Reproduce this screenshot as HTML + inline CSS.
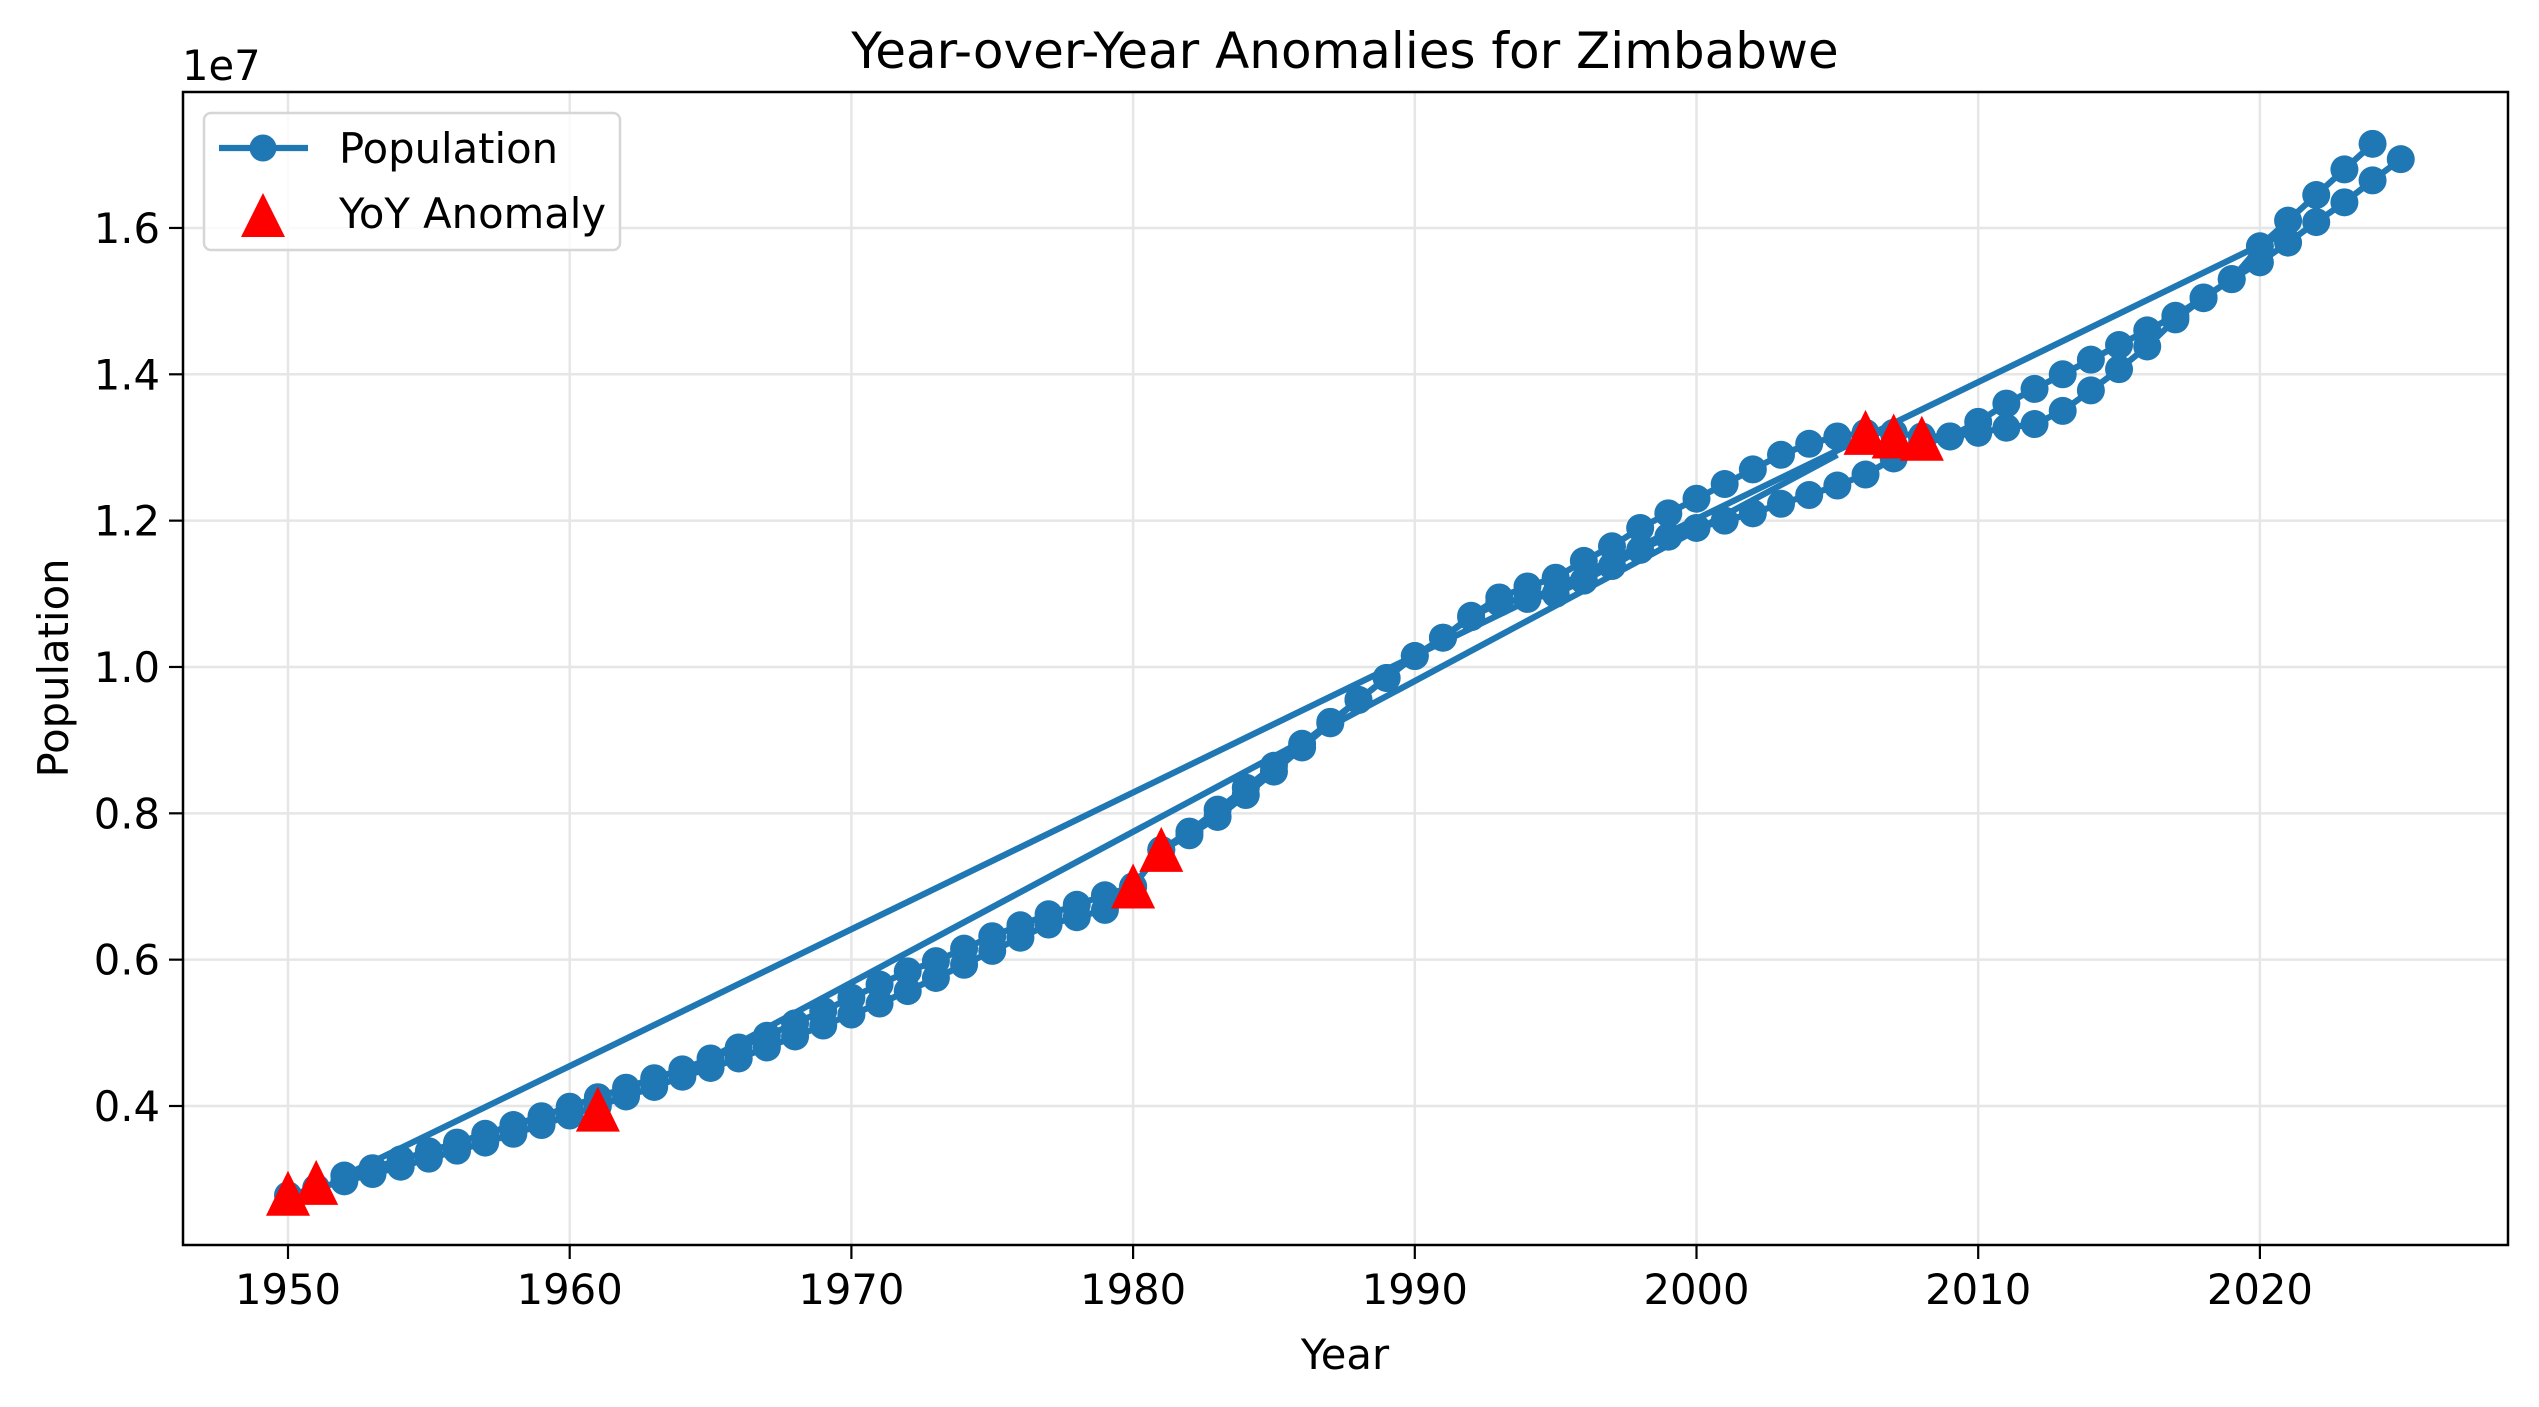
<!DOCTYPE html>
<html><head><meta charset="utf-8">
<style>
html,body{margin:0;padding:0;background:#fff;}
svg{display:block;font-family:"DejaVu Sans","Liberation Sans",sans-serif;}
</style></head>
<body>
<svg id="chart" width="2539" height="1407" viewBox="0 0 2539 1407" xmlns="http://www.w3.org/2000/svg">
<rect x="0" y="0" width="2539" height="1407" fill="#fff"/>
<text x="1345" y="68" font-size="50" text-anchor="middle" fill="#000">Year-over-Year Anomalies for Zimbabwe</text>
<g id="grid"></g>
<g id="plot"></g>
<rect x="183" y="92" width="2325" height="1153" fill="none" stroke="#000" stroke-width="2.5"/>
<g id="ticks"></g>
<text x="182" y="80" font-size="41.7" fill="#000">1e7</text>
<text x="1345" y="1369" font-size="41.7" text-anchor="middle" fill="#000">Year</text>
<text x="0" y="0" font-size="41.7" text-anchor="middle" fill="#000" transform="translate(68,668) rotate(-90)">Population</text>
<g>
<rect x="204" y="113" width="416" height="137" rx="7" fill="#fff" fill-opacity="0.8" stroke="#d6d6d6" stroke-width="2.5"/>
<g>
<line x1="219" y1="148" x2="308" y2="148" stroke="#1f77b4" stroke-width="6.25"/>
<circle cx="263" cy="148" r="13.5" fill="#1f77b4"/>
<text x="339" y="163" font-size="41.7" fill="#000">Population</text>
</g>
<g>
<polygon points="263,193 285,237 241,237" fill="#ff0000"/>
<text x="339" y="228" font-size="41.7" fill="#000">YoY Anomaly</text>
</g>
</g>
</svg>
<script>
const xTickValues = [1950, 1960, 1970, 1980, 1990, 2000, 2010, 2020];
const yTickValues = [0.4, 0.6, 0.8, 1.0, 1.2, 1.4, 1.6];
const yTickLabels = ["0.4", "0.6", "0.8", "1.0", "1.2", "1.4", "1.6"];
const lowerYears = [1950,1951,1952,1953,1954,1955,1956,1957,1958,1959,1960,1961,1962,1963,1964,1965,1966,1967,1968,1969,1970,1971,1972,1973,1974,1975,1976,1977,1978,1979,1980,1981,1982,1983,1984,1985,1986,1987,1988,1989,1990,1991,1992,1993,1994,1995,1996,1997,1998,1999,2000,2001,2002,2003,2004,2005,2006,2007,2008,2009,2010,2011,2012,2013,2014,2015,2016,2017,2018,2019,2020,2021,2022,2023,2024,2025];
const lowerValues = [2.78,2.88,2.97,3.07,3.17,3.28,3.39,3.5,3.62,3.74,3.87,4.0,4.13,4.26,4.4,4.52,4.65,4.8,4.95,5.1,5.25,5.4,5.57,5.75,5.93,6.12,6.3,6.48,6.58,6.68,7.0,7.5,7.7,7.95,8.25,8.57,8.9,9.23,9.55,9.85,10.15,10.4,10.68,10.88,10.93,11.0,11.18,11.38,11.6,11.78,11.9,12.0,12.1,12.23,12.35,12.48,12.63,12.85,13.05,13.15,13.2,13.27,13.32,13.5,13.78,14.07,14.38,14.75,15.04,15.3,15.53,15.8,16.08,16.35,16.65,16.94];
const upperYears = [1952,1953,1954,1955,1956,1957,1958,1959,1960,1961,1962,1963,1964,1965,1966,1967,1968,1969,1970,1971,1972,1973,1974,1975,1976,1977,1978,1979,1980,1981,1982,1983,1984,1985,1986,1987,1988,1989,1990,1991,1992,1993,1994,1995,1996,1997,1998,1999,2000,2001,2002,2003,2004,2005,2006,2007,2008,2009,2010,2011,2012,2013,2014,2015,2016,2017,2018,2019,2020,2021,2022,2023,2024];
const upperValues = [3.05,3.15,3.27,3.38,3.5,3.62,3.74,3.86,3.99,4.12,4.25,4.38,4.5,4.65,4.8,4.96,5.13,5.3,5.48,5.66,5.84,5.98,6.15,6.32,6.47,6.62,6.75,6.88,7.0,7.5,7.75,8.05,8.35,8.65,8.95,9.25,9.55,9.85,10.15,10.4,10.7,10.95,11.1,11.22,11.45,11.65,11.9,12.1,12.3,12.5,12.7,12.9,13.05,13.15,13.2,13.2,13.15,13.15,13.35,13.6,13.8,14.0,14.2,14.4,14.6,14.8,15.05,15.3,15.75,16.1,16.45,16.8,17.15];
const jumpFromYears = [1964, 2021];
const jumpFromValues = [4.45, 15.95];
const jumpToYears = [2005, 1952];
const jumpToValues = [12.9, 3.05];
const anomalyYears = [1950, 1951, 1961, 1980, 1981, 2006, 2007, 2008];
const anomalyValues = [2.8, 2.95, 3.95, 7.0, 7.5, 13.2, 13.15, 13.12];

const NS = "http://www.w3.org/2000/svg";
function xScale(yr){ return 288 + (yr - 1950) * 28.17; }
function yScale(v){ return 1106 - (v - 4) * 73.17; }
function yScaleE7(t){ return yScale(t * 10); }
function mk(tag, attrs, parent){
  const e = document.createElementNS(NS, tag);
  for (const k in attrs) e.setAttribute(k, attrs[k]);
  parent.appendChild(e);
  return e;
}
const grid = document.getElementById('grid');
const ticks = document.getElementById('ticks');
const plot = document.getElementById('plot');

xTickValues.forEach(function(t){
  const x = xScale(t);
  const g = mk('line', {x1:x, y1:92, x2:x, y2:1245, stroke:'#e6e6e6', 'stroke-width':2.5}, grid);
  
  
  const tk = mk('line', {x1:x, y1:1245, x2:x, y2:1259, stroke:'#000', 'stroke-width':2.2}, ticks);
  
  
  const lb = mk('text', {x:x, y:1304, 'font-size':41.7, 'text-anchor':'middle', fill:'#000'}, ticks);
  lb.textContent = String(t);
  
  
});
yTickValues.forEach(function(t, i){
  const y = yScaleE7(t);
  const g = mk('line', {x1:183, y1:y, x2:2508, y2:y, stroke:'#e6e6e6', 'stroke-width':2.5}, grid);
  
  
  const tk = mk('line', {x1:169, y1:y, x2:183, y2:y, stroke:'#000', 'stroke-width':2.2}, ticks);
  
  
  const lb = mk('text', {x:160, y:y + 15, 'font-size':41.7, 'text-anchor':'end', fill:'#000'}, ticks);
  lb.textContent = yTickLabels[i];
  
  
});

function drawTrack(years, values, name){
  const pts = years.map(function(y, i){ return xScale(y).toFixed(1) + ',' + yScale(values[i]).toFixed(1); }).join(' ');
  const pl = mk('polyline', {points:pts, fill:'none', stroke:'#1f77b4', 'stroke-width':6.25, 'stroke-linejoin':'round'}, plot);
  
  
  years.forEach(function(y, i){
    const c = mk('circle', {cx:xScale(y), cy:yScale(values[i]), r:14, fill:'#1f77b4'}, plot);
    
    
  });
}
jumpFromYears.forEach(function(y, i){
  const l = mk('line', {x1:xScale(y), y1:yScale(jumpFromValues[i]), x2:xScale(jumpToYears[i]), y2:yScale(jumpToValues[i]), stroke:'#1f77b4', 'stroke-width':6.25}, plot);
  
  
});
drawTrack(lowerYears, lowerValues, 'population-lower');
drawTrack(upperYears, upperValues, 'population-upper');
anomalyYears.forEach(function(y, i){
  const cx = xScale(y), cy = yScale(anomalyValues[i]);
  const p = mk('polygon', {points:(cx)+','+(cy-23)+' '+(cx+22)+','+(cy+22)+' '+(cx-22)+','+(cy+22), fill:'#ff0000'}, plot);
  
  
});
</script>
</body></html>
